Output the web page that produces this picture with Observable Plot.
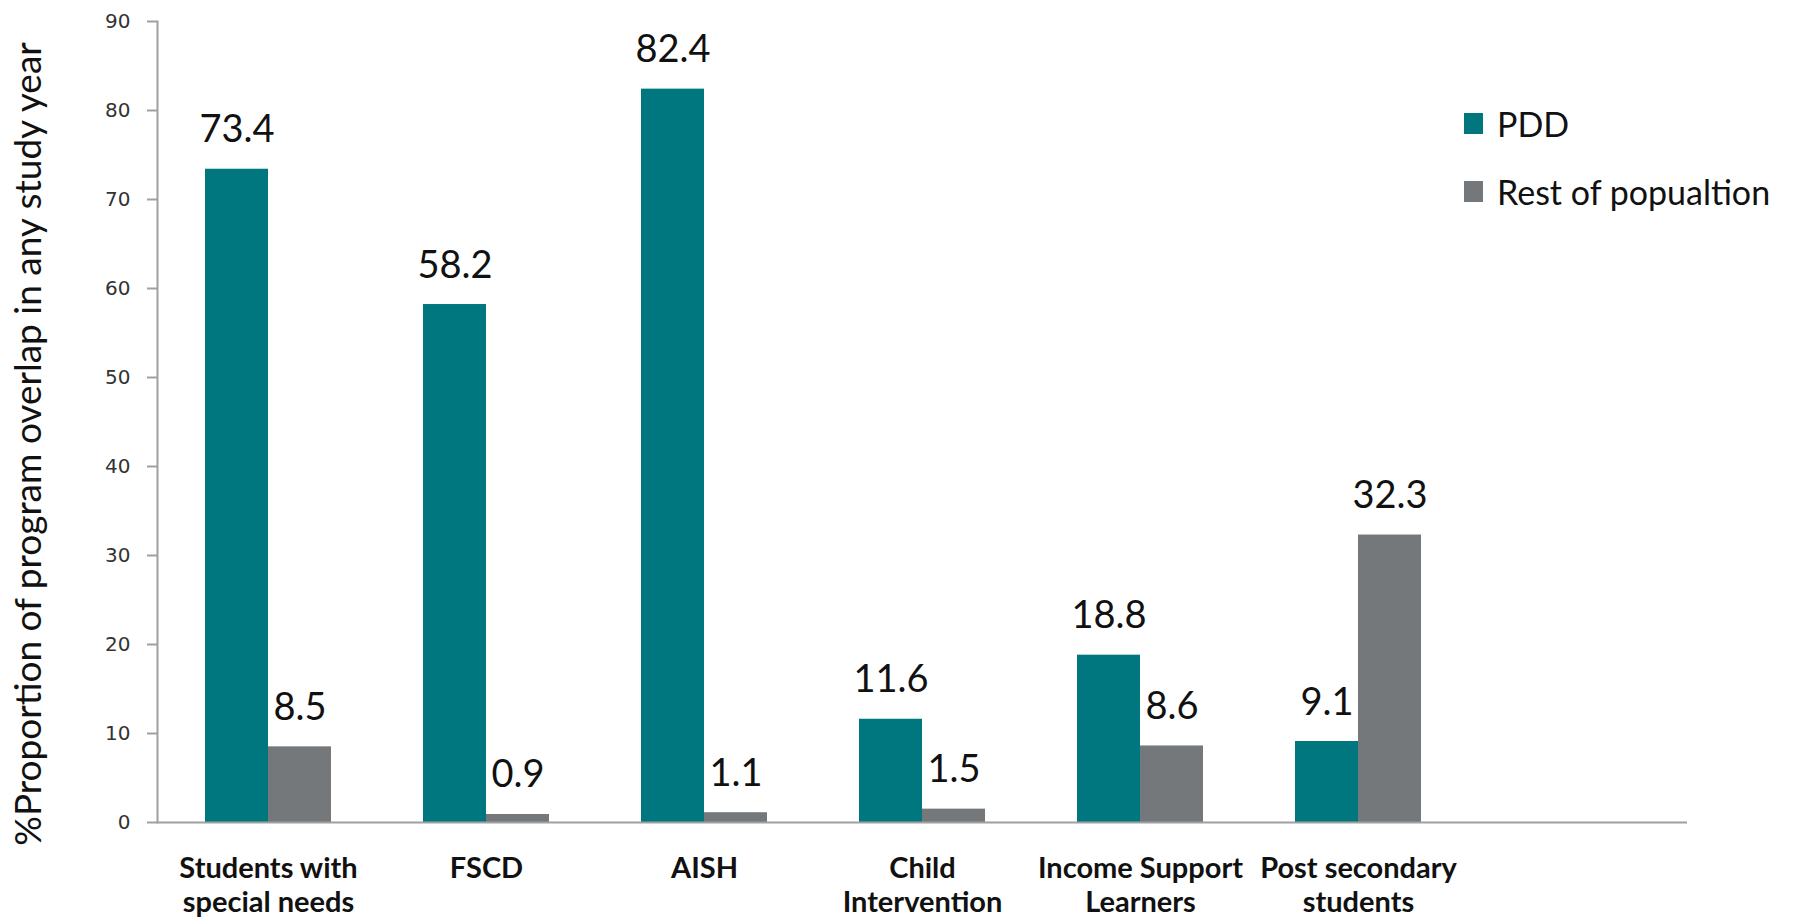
<!DOCTYPE html>
<html>
<head>
<meta charset="utf-8">
<script src="https://cdn.jsdelivr.net/npm/d3@7"></script>
<script src="https://cdn.jsdelivr.net/npm/@observablehq/plot@0.6"></script>
<style>
  html, body { margin: 0; padding: 0; background: #fff; }
  #wrap { position: relative; width: 1795px; height: 921px; }
  #legend { position: absolute; left: 1464px; top: 101px; font-family: Lato, sans-serif; font-size: 34px; color: #111; }
  #legend .row { display: flex; align-items: center; height: 44px; margin-bottom: 24px; }
  #legend .sw { width: 19px; height: 21px; margin-right: 14px; }
</style>
</head>
<body>
<div id="wrap"><div id="legend"></div></div>
<script>
// Data
const categories = [
  "Students with\nspecial needs",
  "FSCD",
  "AISH",
  "Child\nIntervention",
  "Income Support\nLearners",
  "Post secondary\nstudents",
  ""
];
const series = ["PDD", "Rest of popualtion"];
const pddValues = [73.4, 58.2, 82.4, 11.6, 18.8, 9.1];
const restValues = [8.5, 0.9, 1.1, 1.5, 8.6, 32.3];
const yTicks = [0, 10, 20, 30, 40, 50, 60, 70, 80, 90];
const colors = ["#00777E", "#75787B"];
const yTitle = "%Proportion of program overlap in any study year";

const pdd = pddValues.map((v, i) => ({cat: categories[i], series: series[0], v}));
const rest = restValues.map((v, i) => ({cat: categories[i], series: series[1], v}));

const width = 1795, height = 921;
const marginLeft = 157, marginRight = 108, marginTop = 21, marginBottom = 99;
const paddingInner = 0.4235;
const step = (width - marginLeft - marginRight) / categories.length;
const half = step * (1 - paddingInner) / 2;

const chart = Plot.plot({
  width, height, marginLeft, marginRight, marginTop, marginBottom,
  style: {background: "#fff", fontFamily: "Lato, sans-serif", overflow: "visible"},
  x: {domain: categories, paddingInner, paddingOuter: paddingInner / 2, label: null},
  y: {domain: [0, 90], label: null},
  color: {domain: series, range: colors},
  marks: [
    Plot.barY(pdd, {x: "cat", y: "v", fill: "series", insetRight: half}),
    Plot.barY(rest, {x: "cat", y: "v", fill: "series", insetLeft: half}),
    Plot.text(pdd, {x: "cat", y: "v", text: d => d.v.toFixed(1), dx: -half / 2, dy: -27, lineAnchor: "bottom", fontSize: 38, fill: "#111"}),
    Plot.text(rest, {x: "cat", y: "v", text: d => d.v.toFixed(1), dx: half / 2, dy: -27, lineAnchor: "bottom", fontSize: 38, fill: "#111"}),
    Plot.ruleY([0], {stroke: "#a0a0a0", strokeWidth: 2}),
    Plot.frame({anchor: "left", stroke: "#a0a0a0", strokeWidth: 2}),
    Plot.axisY({ticks: yTicks, tickSize: 10, tickPadding: 17, stroke: "#a0a0a0", strokeWidth: 2, fontSize: 20, fontFamily: "DejaVu Sans", fill: "#333", label: null}),
    Plot.axisX({tickSize: 0, tickPadding: 31, fontSize: 29, fontWeight: "bold", lineHeight: 1.17, fill: "#111", label: null}),
    Plot.text([yTitle], {frameAnchor: "left", rotate: -90, textAnchor: "middle", dx: -128, dy: 22, fontSize: 37, fill: "#111", text: d => d})
  ]
});

const wrap = document.getElementById("wrap");
wrap.insertBefore(chart, wrap.firstChild);

const legend = document.getElementById("legend");
series.forEach((s, i) => {
  const row = document.createElement("div");
  row.className = "row";
  const sw = document.createElement("div");
  sw.className = "sw";
  sw.style.background = chart.scale("color").apply(s);
  const t = document.createElement("span");
  t.textContent = s;
  row.appendChild(sw);
  row.appendChild(t);
  legend.appendChild(row);
});
</script>
</body>
</html>
